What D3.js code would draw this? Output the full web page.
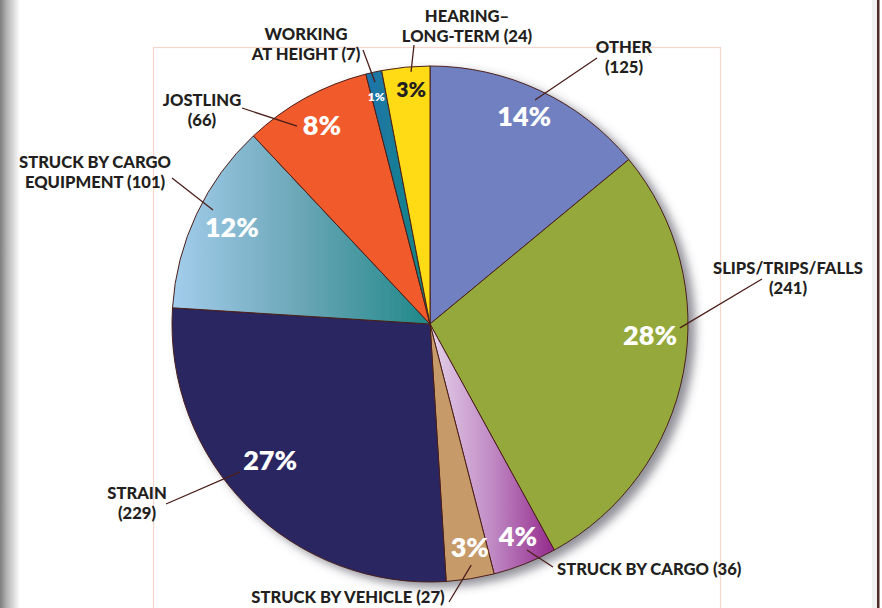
<!DOCTYPE html>
<html>
<head>
<meta charset="utf-8">
<script src="https://cdn.jsdelivr.net/npm/d3@7"></script>
<style>
  html, body { margin: 0; padding: 0; background: #fff; }
  svg { display: block; font-family: Lato, "Open Sans", sans-serif; }
</style>
</head>
<body>
<div id="pie"></div>
<script>
// injury categories, clockwise from 12 o'clock
const categories = ["OTHER", "SLIPS/TRIPS/FALLS", "STRUCK BY CARGO", "STRUCK BY VEHICLE",
  "STRAIN", "STRUCK BY CARGO EQUIPMENT", "JOSTLING", "WORKING AT HEIGHT", "HEARING–LONG-TERM"];
const counts = [125, 241, 36, 27, 229, 101, 66, 7, 24];
// slices in the original are sized by the rounded percentages
const percents = [14, 28, 4, 3, 27, 12, 8, 1, 3];
const calloutText = [
  ["OTHER", "(125)"],
  ["SLIPS/TRIPS/FALLS", "(241)"],
  ["STRUCK BY CARGO (36)"],
  ["STRUCK BY VEHICLE (27)"],
  ["STRAIN", "(229)"],
  ["STRUCK BY CARGO", "EQUIPMENT (101)"],
  ["JOSTLING", "(66)"],
  ["WORKING", "AT HEIGHT (7)"],
  ["HEARING–", "LONG-TERM (24)"]
];

async function drawPie() {

  // 1. dimensions
  const dimensions = { width: 882, height: 608, cx: 430, cy: 324, radius: 258 };

  const colors = {
    other: "#7080c0",
    slips: "#95a83b",
    vehicle: "#c79a6b",
    strain: "#2a2562",
    jostling: "#f15a2b",
    hearing: "#ffdb14",
    edge: "#4b1f1a",
    text: "#231f20"
  };

  // percent label placement: angle nudge (deg) and radius factor
  const pctLayout = [
    { da: -0.8, rf: 0.884, size: 27, fill: "#fff" },
    { da: -7.9, rf: 0.854, size: 27, fill: "#fff" },
    { da: -0.9, rf: 0.891, size: 27, fill: "#fff" },
    { da: -1.1, rf: 0.88, size: 27, fill: "#fff" },
    { da: 4.6, rf: 0.814, size: 27, fill: "#fff" },
    { da: 0.9, rf: 0.855, size: 27, fill: "#fff" },
    { da: 0.3, rf: 0.878, size: 27, fill: "#fff" },
    { da: -0.7, rf: 0.907, size: 12, fill: "#fff" },
    { da: 0.8, rf: 0.911, size: 21, fill: colors.text }
  ];

  // callouts: text anchor + first baseline, leader start, leader end (angle, radius factor)
  const calloutLayout = [
    { x: 624, y: 53, anchor: "middle", sx: 597, sy: 58, ea: 25.1, er: 0.959 },
    { x: 788, y: 274, anchor: "middle", sx: 762, sy: 279, ea: 90.9, er: 0.969 },
    { x: 557, y: 575, anchor: "start", sx: 553, sy: 567, ea: 156.8, er: 0.953 },
    { x: 348, y: 603, anchor: "middle", sx: 449, sy: 602, ea: 170.3, er: 0.948 },
    { x: 137, y: 499, anchor: "middle", sx: 166, sy: 504, ea: 232.1, er: 0.933 },
    { x: 95, y: 168, anchor: "middle", sx: 172, sy: 178, ea: 297.7, er: 0.95 },
    { x: 202, y: 106, anchor: "middle", sx: 242, sy: 108, ea: 326.1, er: 0.924 },
    { x: 306, y: 40, anchor: "middle", sx: 363, sy: 50, ea: 347.2, er: 0.961 },
    { x: 467, y: 22, anchor: "middle", sx: 414, sy: 45, ea: 355.7, er: 0.98 }
  ];

  // 2. canvas
  const wrapper = d3.select("#pie")
    .append("svg")
      .attr("width", dimensions.width)
      .attr("height", dimensions.height);

  const defs = wrapper.append("defs");

  const addGradient = (id, stops) => {
    const g = defs.append("linearGradient")
      .attr("id", id)
      .attr("x1", "0%").attr("y1", "0%")
      .attr("x2", "100%").attr("y2", "0%");
    stops.forEach(s => g.append("stop")
      .attr("offset", s[0])
      .attr("stop-color", s[1]));
  };
  addGradient("equip", [[0, "#a3cdec"], [0.5, "#6aa6b6"], [1, "#1f8888"]]);
  addGradient("cargo", [[0, "#e4d2ea"], [0.5, "#c08ac4"], [1, "#942a8c"]]);
  addGradient("work", [[0, "#1f73ad"], [1, "#11887c"]]);
  addGradient("leftEdge", [[0, "#7d7d7d"], [0.35, "#b4b4b4"], [1, "#ffffff"]]);

  const sliceFill = [colors.other, colors.slips, "url(#cargo)", colors.vehicle, colors.strain,
    "url(#equip)", colors.jostling, "url(#work)", colors.hearing];

  const shadow = defs.append("filter")
    .attr("id", "shadow")
    .attr("x", "-10%").attr("y", "-10%")
    .attr("width", "130%").attr("height", "130%");
  shadow.append("feDropShadow")
    .attr("dx", 7).attr("dy", 5)
    .attr("stdDeviation", 5)
    .attr("flood-color", "#4a4a55")
    .attr("flood-opacity", 0.6);

  // page edges
  wrapper.append("rect")
    .attr("x", 0).attr("y", 0)
    .attr("width", 20).attr("height", dimensions.height)
    .attr("fill", "url(#leftEdge)");
  wrapper.append("rect")
    .attr("x", 872).attr("y", 0)
    .attr("width", 5).attr("height", dimensions.height)
    .attr("fill", "#f1f1f1");
  wrapper.append("rect")
    .attr("x", 877).attr("y", 0)
    .attr("width", 2.5).attr("height", dimensions.height)
    .attr("fill", "#4e2c26");

  // faint frame
  wrapper.append("rect")
    .attr("x", 153.5).attr("y", 47.5)
    .attr("width", 567).attr("height", 620)
    .attr("fill", "none")
    .attr("stroke", "#f8d6cc")
    .attr("stroke-width", 1.2);

  // 3. pie
  const pie = d3.pie().sort(null).value(d => d);
  const arcs = pie(percents);

  const arcGen = d3.arc()
    .innerRadius(0)
    .outerRadius(dimensions.radius);

  const bounds = wrapper.append("g")
    .attr("transform", `translate(${dimensions.cx},${dimensions.cy})`);

  bounds.append("g")
    .attr("filter", "url(#shadow)")
    .selectAll("path")
    .data(arcs)
    .join("path")
      .attr("d", arcGen)
      .attr("fill", (d, i) => sliceFill[i])
      .attr("stroke", colors.edge)
      .attr("stroke-width", 1);

  const polar = (deg, r) => {
    const a = deg * Math.PI / 180;
    return [r * Math.sin(a), -r * Math.cos(a)];
  };
  const midDeg = d => (d.startAngle + d.endAngle) / 2 * 180 / Math.PI;

  // 4. leader lines
  bounds.append("g")
    .selectAll("line")
    .data(arcs)
    .join("line")
      .attr("x1", (d, i) => calloutLayout[i].sx - dimensions.cx)
      .attr("y1", (d, i) => calloutLayout[i].sy - dimensions.cy)
      .attr("x2", (d, i) => polar(calloutLayout[i].ea, calloutLayout[i].er * dimensions.radius)[0])
      .attr("y2", (d, i) => polar(calloutLayout[i].ea, calloutLayout[i].er * dimensions.radius)[1])
      .attr("stroke", colors.edge)
      .attr("stroke-width", 1.3);

  // 5. percent labels
  bounds.append("g")
    .selectAll("text")
    .data(arcs)
    .join("text")
      .attr("x", (d, i) => polar(midDeg(d) + pctLayout[i].da, pctLayout[i].rf * dimensions.radius)[0])
      .attr("y", (d, i) => polar(midDeg(d) + pctLayout[i].da, pctLayout[i].rf * dimensions.radius)[1])
      .attr("dy", "0.36em")
      .attr("text-anchor", "middle")
      .attr("font-size", (d, i) => pctLayout[i].size)
      .attr("font-weight", 800)
      .attr("fill", (d, i) => pctLayout[i].fill)
      .text(d => `${d.data}%`);

  // 6. category callouts
  const callouts = wrapper.append("g")
    .selectAll("text")
    .data(calloutText)
    .join("text")
      .attr("x", (d, i) => calloutLayout[i].x)
      .attr("y", (d, i) => calloutLayout[i].y)
      .attr("text-anchor", (d, i) => calloutLayout[i].anchor)
      .attr("font-size", 16.6)
      .attr("font-weight", 900)
      .attr("fill", colors.text);

  callouts.selectAll("tspan")
    .data((d, i) => d.map(t => ({ t, x: calloutLayout[i].x })))
    .join("tspan")
      .attr("x", d => d.x)
      .attr("dy", (d, j) => j === 0 ? 0 : 20)
      .text(d => d.t);
}

drawPie();
</script>
</body>
</html>
